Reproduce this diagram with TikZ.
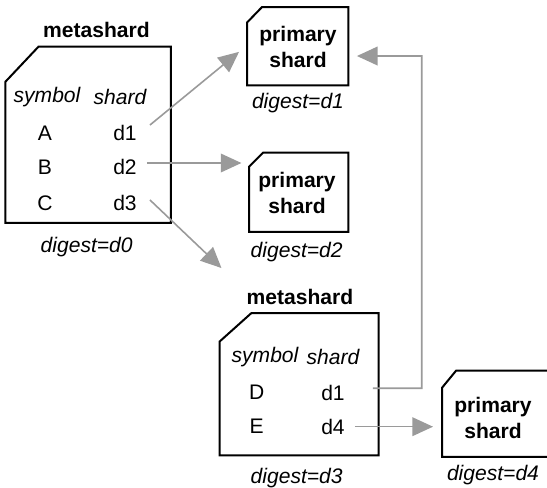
\documentclass[tikz,border=0pt]{standalone}
\usepackage{fontspec}
\setmainfont{Liberation Sans}
\usetikzlibrary{arrows.meta,calc,fit}
\definecolor{arrowgray}{HTML}{9A9A9A}
\begin{document}
\begin{tikzpicture}[x=0.75pt,y=-0.75pt,
  txt/.style={inner sep=0pt, font=\fontsize{15.8}{19.5}\selectfont},
  ttl/.style={inner sep=0pt, align=center, font=\fontsize{15.8}{19.5}\selectfont\bfseries},
  hdr/.style={inner sep=0pt, font=\fontsize{15.8}{19.5}\selectfont\itshape},
  frame/.style={inner sep=0pt, draw=none},
  outline/.style={line width=1.5pt, line join=miter},
  arr/.style={draw=arrowgray, line width=1.2pt, -{Triangle[length=15.5pt,width=14pt]}}
]
\useasboundingbox (0,0) rectangle (547,488);

% frames
\node[frame, fit={(5.7,47) (170.7,222.7)}] (m1) {};
\node[frame, fit={(247.3,7.3) (348,85)}] (p1) {};
\node[frame, fit={(249.3,153) (348,231.7)}] (p2) {};
\node[frame, fit={(220,313.3) (378.3,455)}] (m3) {};
\node[frame, fit={(442.3,371) (550,456.7)}] (p4) {};

\begin{scope}
\clip (0,0) rectangle (547,488);
\draw[outline] ($(m1.north west)+(33,0)$) -- (m1.north east) -- (m1.south east) -- (m1.south west) -- ($(m1.north west)+(0,35)$) -- cycle;
\draw[outline] ($(p1.north west)+(15,0)$) -- (p1.north east) -- (p1.south east) -- (p1.south west) -- ($(p1.north west)+(0,15.5)$) -- cycle;
\draw[outline] ($(p2.north west)+(14,0)$) -- (p2.north east) -- (p2.south east) -- (p2.south west) -- ($(p2.north west)+(0,14)$) -- cycle;
\draw[outline] ($(m3.north west)+(31.7,0)$) -- (m3.north east) -- (m3.south east) -- (m3.south west) -- ($(m3.north west)+(0,28.4)$) -- cycle;
\draw[outline] ($(p4.north west)+(14,0)$) -- (p4.north east) -- (p4.south east) -- (p4.south west) -- ($(p4.north west)+(0,17)$) -- cycle;
\end{scope}

% metashard 1
\node[ttl] (m1t) at (96.5,30) {metashard};
\node[hdr] (m1s) at (47,97) {symbol};
\node[hdr] (m1h) at (120,97) {shard};
\node[txt] (a) at (45,133) {A};
\node[txt] (ad) at (125,133) {d1};
\node[txt] (b) at (45,167) {B};
\node[txt] (bd) at (125,167) {d2};
\node[txt] (c) at (45,203) {C};
\node[txt] (cd) at (125,203) {d3};
\node[hdr] (m1g) at (86.7,247) {digest=d0};

% primary shards
\node[ttl] (p1t) at (298,47) {primary\\shard};
\node[hdr] (p1g) at (298,103) {digest=d1};
\node[ttl] (p2t) at (297,193) {primary\\shard};
\node[hdr] (p2g) at (296.7,252) {digest=d2};

% metashard 3
\node[ttl] (m3t) at (300,296.7) {metashard};
\node[hdr] (m3s) at (265,357.3) {symbol};
\node[hdr] (m3h) at (333,357.3) {shard};
\node[txt] (d) at (256.7,392.7) {D};
\node[txt] (dd) at (333,392.7) {d1};
\node[txt] (e) at (256.7,426.7) {E};
\node[txt] (ed) at (333,426.7) {d4};
\node[hdr] (m3g) at (296.7,478) {digest=d3};

% primary shard 4
\node[ttl] (p4t) at (493,417.5) {primary\\shard};
\node[hdr] (p4g) at (493,475) {digest=d4};

% connectors
\coordinate (bs) at ([xshift=7.5pt,yshift=3pt]bd.east);
\coordinate (p2w) at ([xshift=-5.7pt]p2.west);
\coordinate (es) at ([xshift=7.5pt]ed.east);
\coordinate (p4w) at ([xshift=-6.75pt]p4.west);
\coordinate (fb) at (421.7,56);
\draw[arr] ([xshift=9.75pt,yshift=6pt]ad.east) -- ([xshift=-6pt,yshift=-4.3pt]p1.west);
\draw[arr] (bs) -- (p2w |- bs);
\draw[arr] ([xshift=9.75pt,yshift=2.25pt]cd.east) -- ([xshift=1.3pt,yshift=33.75pt]m3.north west);
\draw[arr] ([xshift=21pt,yshift=3.3pt]dd.east) -| (fb) -- ([xshift=6.5pt,yshift=-7.4pt]p1.east);
\draw[arr] (es) -- (p4w |- es);
\end{tikzpicture}
\end{document}
